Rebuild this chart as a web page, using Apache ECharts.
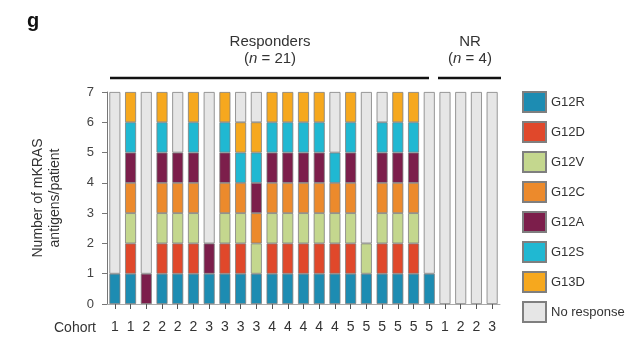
<!DOCTYPE html>
<html>
<head>
<meta charset="utf-8">
<script src="https://cdn.jsdelivr.net/npm/echarts@6/dist/echarts.min.js"></script>
<style>
  html, body { margin: 0; padding: 0; background: #fff; }
  #chart { width: 638px; height: 337px; }
</style>
</head>
<body>
<div id="chart"></div>
<script>
// Cohort of each patient (21 responders, then 4 non-responders)
const cohorts = [1,1,2,2,2,2,3,3,3,3,4,4,4,4,4,5,5,5,5,5,5, 1,2,2,3];

// Antigen presence per patient (1 = response to that mKRAS antigen)
const G12R = [1,1,0,1,1,1,1,1,1,1,1,1,1,1,1,1,1,1,1,1,1,0,0,0,0];
const G12D = [0,1,0,1,1,1,0,1,1,0,1,1,1,1,1,1,0,1,1,1,0,0,0,0,0];
const G12V = [0,1,0,1,1,1,0,1,1,1,1,1,1,1,1,1,1,1,1,1,0,0,0,0,0];
const G12C = [0,1,0,1,1,1,0,1,1,1,1,1,1,1,1,1,0,1,1,1,0,0,0,0,0];
const G12A = [0,1,1,1,1,1,1,1,0,1,1,1,1,1,0,1,0,1,1,1,0,0,0,0,0];
const G12S = [0,1,0,1,0,1,0,1,1,1,1,1,1,1,1,1,0,1,1,1,0,0,0,0,0];
const G13D = [0,1,0,1,0,1,0,1,1,1,1,1,1,1,0,1,0,0,1,1,0,0,0,0,0];
const noResponse = [6,0,6,0,2,0,5,0,1,1,0,0,0,0,2,0,5,1,0,0,6,7,7,7,7];

const yTicks = [0,1,2,3,4,5,6,7];

const seriesDefs = [
  { name: 'G12R', data: G12R, color: '#1d8cb2' },
  { name: 'G12D', data: G12D, color: '#e0482b' },
  { name: 'G12V', data: G12V, color: '#c4d78e' },
  { name: 'G12C', data: G12C, color: '#ec8a2c' },
  { name: 'G12A', data: G12A, color: '#7c1e4b' },
  { name: 'G12S', data: G12S, color: '#20b8d2' },
  { name: 'G13D', data: G13D, color: '#f6a81e' },
  { name: 'No response', data: noResponse, color: '#e6e6e6' }
];

const FONT = "'Liberation Sans', Arial, sans-serif";
const chart = echarts.init(document.getElementById('chart'), null, { renderer: 'canvas' });

chart.setOption({
  animation: false,
  backgroundColor: '#ffffff',
  textStyle: { fontFamily: FONT },
  grid: { left: 107, right: 138, top: 92, bottom: 33 },
  legend: {
    orient: 'vertical',
    left: 517,
    top: 86,
    itemWidth: 23,
    itemHeight: 20,
    itemGap: 8,
    icon: 'rect',
    textStyle: { fontFamily: FONT, fontSize: 13, color: '#333' },
    data: seriesDefs.map(s => s.name)
  },
  xAxis: {
    type: 'category',
    data: cohorts.map((c, i) => 'P' + (i + 1)),
    axisLine: { show: true, lineStyle: { color: '#aaa', width: 1 } },
    axisTick: { show: true, alignWithLabel: true, length: 5, lineStyle: { color: '#555' } },
    axisLabel: {
      fontFamily: FONT, fontSize: 14, color: '#333', margin: 16,
      formatter: (v, i) => String(cohorts[i])
    }
  },
  yAxis: {
    type: 'value',
    min: yTicks[0],
    max: yTicks[yTicks.length - 1],
    interval: 1,
    splitLine: { show: false },
    axisLine: { show: true, lineStyle: { color: '#777', width: 1 } },
    axisTick: { show: true, length: 5, lineStyle: { color: '#777' } },
    axisLabel: { fontFamily: FONT, fontSize: 13, color: '#444', margin: 13 },
    name: 'Number of mKRAS\nantigens/patient',
    nameLocation: 'middle',
    nameGap: 43,
    nameTextStyle: { fontFamily: FONT, fontSize: 14, color: '#333', lineHeight: 17 }
  },
  series: seriesDefs.map(s => ({
    name: s.name,
    type: 'bar',
    stack: 'antigens',
    barWidth: 11,
    data: s.data.map(v => (v ? v : null)),
    itemStyle: { color: s.color, borderColor: '#7f7f7f', borderWidth: 0.8 }
  })),
  graphic: [
    { type: 'text', left: 27, top: 11,
      style: { text: 'g', font: "bold 20px " + FONT, fill: '#111' } },
    { type: 'text', x: 270, y: 42,
      style: { text: 'Responders', font: "15px " + FONT, fill: '#333', align: 'center', verticalAlign: 'middle' } },
    { type: 'text', x: 270, y: 59,
      style: {
        text: '({i|n} = 21)', font: "15px " + FONT, fill: '#333', align: 'center', verticalAlign: 'middle',
        rich: { i: { fontStyle: 'italic', fontFamily: FONT, fontSize: 15, fill: '#333' } }
      } },
    { type: 'text', x: 470, y: 42,
      style: { text: 'NR', font: "15px " + FONT, fill: '#333', align: 'center', verticalAlign: 'middle' } },
    { type: 'text', x: 470, y: 59,
      style: {
        text: '({i|n} = 4)', font: "15px " + FONT, fill: '#333', align: 'center', verticalAlign: 'middle',
        rich: { i: { fontStyle: 'italic', fontFamily: FONT, fontSize: 15, fill: '#333' } }
      } },
    { type: 'line', shape: { x1: 110, y1: 78, x2: 429, y2: 78 },
      style: { stroke: '#111', lineWidth: 2.5 } },
    { type: 'line', shape: { x1: 438, y1: 78, x2: 501, y2: 78 },
      style: { stroke: '#111', lineWidth: 2.5 } },
    { type: 'text', x: 96, y: 328,
      style: { text: 'Cohort', font: "14px " + FONT, fill: '#333', align: 'right', verticalAlign: 'middle' } }
  ]
});
</script>
</body>
</html>
